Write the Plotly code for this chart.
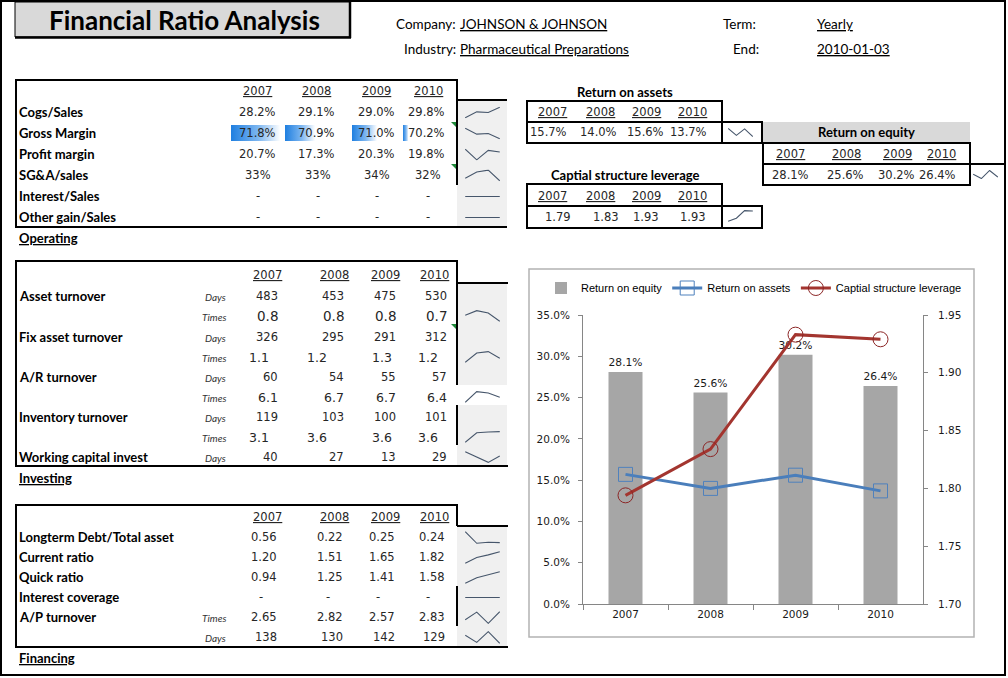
import plotly.graph_objects as go

W, H = 1008, 678
NUM = "DejaVu Sans"
LBL = "Lato"
SPARK = "#46566b"
COLGRAY = "#f0f0f0"

years = ["2007", "2008", "2009", "2010"]

# operating (% of sales)
cogs_sales = [28.2, 29.1, 29.0, 29.8]
gross_margin = [71.8, 70.9, 71.0, 70.2]
profit_margin = [20.7, 17.3, 20.3, 19.8]
sga_sales = [32.7, 33.4, 33.6, 32.4]
interest_sales = [None, None, None, None]
other_gain_sales = [None, None, None, None]

# investing
asset_days = [483, 453, 475, 530]
asset_times = [0.756, 0.806, 0.78, 0.689]
fix_days = [326, 295, 291, 312]
fix_times = [1.12, 1.237, 1.254, 1.17]
ar_days = [60, 54, 55, 57]
ar_times = [6.08, 6.74, 6.66, 6.40]
inv_days = [119, 103, 100, 101]
inv_times = [3.07, 3.58, 3.62, 3.64]
wc_days = [40, 27, 13, 29]

# financing
ltd_assets = [0.56, 0.22, 0.25, 0.24]
current_ratio = [1.20, 1.51, 1.65, 1.82]
quick_ratio = [0.94, 1.25, 1.41, 1.58]
interest_coverage = [None, None, None, None]
ap_times = [2.65, 2.82, 2.57, 2.83]
ap_days = [138, 130, 142, 129]

# returns
roa = [15.7, 14.0, 15.6, 13.7]
roe = [28.1, 25.6, 30.2, 26.4]
leverage = [1.794, 1.834, 1.933, 1.929]


def X(x):
    return x / W


def Y(y):
    return 1 - y / H


fig = go.Figure()
shapes, annos = [], []


def line(x0, y0, x1, y1, w=2, color="black"):
    shapes.append(dict(type="line", xref="paper", yref="paper", x0=X(x0), y0=Y(y0), x1=X(x1), y1=Y(y1),
                       line=dict(color=color, width=w), layer="above"))


def box(x0, y0, x1, y1, fill, w=0, color="black", layer="below"):
    shapes.append(dict(type="rect", xref="paper", yref="paper", x0=X(x0), y0=Y(y0), x1=X(x1), y1=Y(y1),
                       fillcolor=fill, line=dict(color=color, width=w), layer=layer))


def txt(x, y, s, size=11.5, family=NUM, anchor="center", weight="normal", style="normal", color="#262626"):
    annos.append(dict(x=X(x), y=Y(y), xref="paper", yref="paper", text=s, showarrow=False,
                      xanchor=anchor, yanchor="middle", borderpad=0, borderwidth=0,
                      font=dict(family=family, size=size, color=color, weight=weight, style=style)))


def label(x, y, s, size=13):
    txt(x, y, s, size=size, family=LBL, anchor="left", weight="bold", color="black")


def tri(x, y):
    shapes.append(dict(type="path", xref="paper", yref="paper", layer="above",
                       path=f"M{X(x)},{Y(y)} L{X(x + 5)},{Y(y)} L{X(x + 5)},{Y(y + 5)} Z",
                       fillcolor="#1f8a3a", line=dict(width=0)))


axis_no = [3]


def new_axes(x0, x1, y0, y1, xr, yr, xtype="linear"):
    axis_no[0] += 1
    k = axis_no[0]
    fig.update_layout({
        f"xaxis{k}": dict(domain=[X(x0), X(x1)], range=xr, type=xtype, visible=False, fixedrange=True, anchor=f"y{k}"),
        f"yaxis{k}": dict(domain=[Y(y1), Y(y0)], range=yr, visible=False, fixedrange=True, anchor=f"x{k}"),
    })
    return f"x{k}", f"y{k}"


def spark(values, x0, x1, yc, half=6):
    pts = [0 if v is None else v for v in values]
    lo, hi = min(pts), max(pts)
    if hi == lo:
        lo, hi = lo - 1, hi + 1
    pad = (hi - lo) * 0.06
    xa, ya = new_axes(x0, x1, yc - half, yc + half, [-0.02, 3.02], [lo - pad, hi + pad], "category")
    fig.add_trace(go.Scatter(x=years, y=pts, mode="lines", line=dict(color=SPARK, width=1.1),
                             xaxis=xa, yaxis=ya, showlegend=False, hoverinfo="skip"))


def fmt(v, f):
    return "-" if v is None else f.format(v)


# ---------------- header ----------------
box(1, 1, 1005, 675, "rgba(0,0,0,0)", w=2, layer="above")
box(15, 2, 350, 37, "#d9d9d9", w=1)
line(15, 37.5, 351, 37.5, w=2.5)
line(350, 2, 350, 38, w=2.5)
txt(184, 20, "Financial Ratio Analysis", size=26, family=LBL, weight="bold", color="black")

HF = 13.5
txt(456, 24, "Company:", size=HF, family=LBL, anchor="right", color="black")
txt(460, 24, "<u>JOHNSON &amp; JOHNSON</u>", size=HF, family=LBL, anchor="left", color="black")
txt(456, 49, "Industry:", size=HF, family=LBL, anchor="right", color="black")
txt(460, 49, "<u>Pharmaceutical Preparations</u>", size=HF, family=LBL, anchor="left", color="black")
txt(723, 24, "Term:", size=HF, family=LBL, anchor="left", color="black")
txt(817, 24, "<u>Yearly</u>", size=HF, family=LBL, anchor="left", color="black")
txt(733, 49, "End:", size=HF, family=LBL, anchor="left", color="black")
txt(817, 49, "<u>2010-01-03</u>", size=HF, family=LBL, anchor="left", color="black")

SPX0, SPX1 = 465, 500

# ---------------- operating ----------------
box(457, 100, 507, 227, COLGRAY)
line(16, 80, 457, 80)
line(16, 79, 16, 228)
line(457, 79, 457, 185)
line(457, 100, 507, 100)
line(15, 227, 507, 227)
tri(451, 122)
tri(451, 164)

for x, yr in zip([257, 316, 376, 428], years):
    txt(x, 91, f"<u>{yr}</u>")

R_OP = [276, 335, 395, 445]
C_OP = [258, 318, 377, 428]
op_rows = [
    ("Cogs/Sales", cogs_sales, "{:.1f}%", "right", 112),
    ("Gross Margin", gross_margin, "{:.1f}%", "right", 133),
    ("Profit margin", profit_margin, "{:.1f}%", "right", 154),
    ("SG&amp;A/sales", sga_sales, "{:.0f}%", "center", 175),
    ("Interest/Sales", interest_sales, "{:.1f}%", "center", 196),
    ("Other gain/Sales", other_gain_sales, "{:.1f}%", "center", 217),
]

# Excel style data bars on gross margin
lo, hi = min(gross_margin), max(gross_margin)
span = (hi - lo) / 0.8
base = lo - 0.1 * span
bar_cells = [(231, 286), (285, 352), (352, 402), (403, 458)]
for (c0, c1), v in zip(bar_cells, gross_margin):
    xa, ya = new_axes(c0, c1, 125, 141, [base, base + span], [0, 1])
    fig.add_trace(go.Scatter(x=[base, v, v, base, base], y=[0, 0, 1, 1, 0], mode="lines", fill="toself",
                             line=dict(width=0),
                             fillgradient=dict(type="horizontal",
                                               colorscale=[[0, "#1f7fe0"], [0.55, "#7db6f0"], [1, "#ffffff"]]),
                             xaxis=xa, yaxis=ya, showlegend=False, hoverinfo="skip"))

for name, vals, f, align, y in op_rows:
    label(19, y, name)
    xs = R_OP if align == "right" else C_OP
    for x, v in zip(xs, vals):
        txt(x, y, fmt(v, f), anchor=align)
    spark(vals, SPX0, SPX1, y + 0.5)
label(19, 238, "<u>Operating</u>")

# ---------------- investing ----------------
box(457, 283, 507, 385, COLGRAY)
box(457, 405, 507, 466, COLGRAY)
line(16, 261, 457, 261)
line(16, 260, 16, 467)
line(457, 260, 457, 385)
line(457, 405, 457, 445)
line(457, 283, 508, 283)
line(15, 466, 508, 466)
tri(451, 324)

YR_IN = [267, 334, 385, 434]
for x, yr in zip(YR_IN, years):
    txt(x, 275, f"<u>{yr}</u>")

R_IN = [278, 344, 396, 447]
L_IN = [249, 307, 372, 418]
inv_rows = [
    ("Asset turnover", "Days", asset_days, "{:.0f}", "right", R_IN, 11.5, 296, False),
    ("", "Times", asset_times, "{:.1f}", "right", R_IN, 13.5, 316, True),
    ("Fix asset turnover", "Days", fix_days, "{:.0f}", "right", R_IN, 11.5, 337, False),
    ("", "Times", fix_times, "{:.1f}", "left", L_IN, 12.5, 357, True),
    ("A/R turnover", "Days", ar_days, "{:.0f}", "right", R_IN, 11.5, 377, False),
    ("", "Times", ar_times, "{:.1f}", "right", R_IN, 12.5, 397, True),
    ("Inventory turnover", "Days", inv_days, "{:.0f}", "right", R_IN, 11.5, 417, False),
    ("", "Times", inv_times, "{:.1f}", "left", L_IN, 12.5, 437, True),
    ("Working capital invest", "Days", wc_days, "{:.0f}", "right", R_IN, 11.5, 457, True),
]
for name, sub, vals, f, align, xs, size, y, sp in inv_rows:
    if name:
        label(19, y, name)
    txt(226, y + 1, sub, size=10, family=LBL, anchor="right", style="italic", color="#333333")
    for x, v in zip(xs, vals):
        txt(x, y, fmt(v, f), size=size, anchor=align)
    if sp:
        spark(vals, SPX0, SPX1, y)
label(19, 478, "<u>Investing</u>")

# ---------------- financing ----------------
box(457, 526, 507, 647, COLGRAY)
line(16, 505, 457, 505)
line(16, 504, 16, 648)
line(457, 504, 457, 526)
line(457, 586, 457, 626)
line(457, 526, 508, 526)
line(15, 647, 508, 647)

for x, yr in zip(YR_IN, years):
    txt(x, 517, f"<u>{yr}</u>")

R_FI = [277, 343, 395, 445]
C_FI = [261, 328, 378, 428]
fin_rows = [
    ("Longterm Debt/Total asset", "", ltd_assets, "{:.2f}", "right", R_FI, 537),
    ("Current ratio", "", current_ratio, "{:.2f}", "right", R_FI, 557),
    ("Quick ratio", "", quick_ratio, "{:.2f}", "right", R_FI, 577),
    ("Interest coverage", "", interest_coverage, "{:.2f}", "center", C_FI, 597),
    ("A/P turnover", "Times", ap_times, "{:.2f}", "right", R_FI, 617),
    ("", "Days", ap_days, "{:.0f}", "right", R_FI, 637),
]
for name, sub, vals, f, align, xs, y in fin_rows:
    if name:
        label(19, y, name)
    if sub:
        txt(226, y + 1, sub, size=10, family=LBL, anchor="right", style="italic", color="#333333")
    for x, v in zip(xs, vals):
        txt(x, y, fmt(v, f), anchor=align)
    spark(vals, SPX0, SPX1, y + 0.5, half=6.5)
label(19, 658, "<u>Financing</u>")

# ---------------- return tables ----------------
YR_R = [552, 600, 646, 692]
txt(625, 92, "Return on assets", size=13, family=LBL, weight="bold", color="black")
box(527, 101, 722, 143, "rgba(0,0,0,0)", w=2, layer="above")
line(527, 122, 763, 122)
line(527, 143, 763, 143)
line(762, 122, 762, 144)
for x, yr in zip(YR_R, years):
    txt(x, 112, f"<u>{yr}</u>")
for x, v in zip([548, 598, 645, 688], roa):
    txt(x, 132, f"{v:.1f}%")
spark(roa, 728, 753, 132.5, half=4.5)

box(763, 122, 970, 143, "#d9d9d9")
txt(866, 132, "Return on equity", size=13, family=LBL, weight="bold", color="black")
box(763, 143, 970, 185, "rgba(0,0,0,0)", w=2, layer="above")
line(763, 164, 1005, 164)
for x, yr in zip([790, 846, 897, 941], years):
    txt(x, 154, f"<u>{yr}</u>")
for x, v in zip([790, 845, 896, 937], roe):
    txt(x, 175, f"{v:.1f}%")
spark(roe, 973, 998, 174.5, half=4.5)

txt(625, 175, "Captial structure leverage", size=13, family=LBL, weight="bold", color="black")
box(527, 184, 722, 228, "rgba(0,0,0,0)", w=2, layer="above")
line(527, 206, 763, 206)
line(527, 228, 763, 228)
line(762, 206, 762, 229)
for x, yr in zip(YR_R, years):
    txt(x, 196, f"<u>{yr}</u>")
for x, v in zip([558, 606, 646, 693], leverage):
    txt(x, 217, f"{v:.2f}")
spark(leverage, 728, 753, 216, half=6)

# ---------------- chart ----------------
box(529, 269, 974, 637, "rgba(0,0,0,0)", w=1.5, color="#b3b3b3", layer="above")

fig.add_trace(go.Bar(
    x=years, y=[v / 100 for v in roe], name="Return on equity",
    marker=dict(color="#a6a6a6", line=dict(width=0)), width=0.4,
    texttemplate="%{y:.1%}", textposition="outside", cliponaxis=False,
    textfont=dict(family=NUM, size=11, color="#1a1a1a"),
    xaxis="x2", yaxis="y2", hoverinfo="skip",
))
fig.add_trace(go.Scatter(
    x=years, y=[v / 100 for v in roa], name="Return on assets", mode="lines+markers",
    line=dict(color="#4a7ebb", width=3),
    marker=dict(symbol="square-open", size=14, color="#4f81bd", line=dict(width=1)),
    xaxis="x2", yaxis="y2", hoverinfo="skip",
))
fig.add_trace(go.Scatter(
    x=years, y=leverage, name="Captial structure leverage", mode="lines+markers",
    line=dict(color="#a3352f", width=3),
    marker=dict(symbol="circle-open", size=15, color="#8c2626", line=dict(width=1)),
    xaxis="x2", yaxis="y3", hoverinfo="skip",
))

AX = "#868686"
fig.update_layout(
    width=W, height=H,
    margin=dict(l=0, r=0, t=0, b=0, autoexpand=False),
    paper_bgcolor="white",
    plot_bgcolor="rgba(0,0,0,0)",
    shapes=shapes,
    annotations=annos,
    showlegend=True,
    legend=dict(orientation="h", x=X(754), xanchor="center", y=Y(288), yanchor="middle",
                font=dict(family="Liberation Sans", size=11, color="black"),
                bgcolor="rgba(0,0,0,0)", traceorder="normal", itemwidth=30),
    xaxis2=dict(domain=[X(583), X(923)], anchor="y2", type="category", showline=True, linecolor=AX,
                ticks="outside", tickson="boundaries", ticklen=5, tickcolor=AX, showgrid=False,
                tickfont=dict(family=NUM, size=10.5, color="#1a1a1a"), fixedrange=True),
    yaxis2=dict(domain=[Y(604), Y(315)], anchor="x2", range=[0, 0.35], dtick=0.05, tickformat=".1%",
                showline=True, linecolor=AX, ticks="outside", ticklen=4, tickcolor=AX,
                showgrid=False, zeroline=False, ticklabelstandoff=6,
                tickfont=dict(family=NUM, size=10.5, color="#1a1a1a"), fixedrange=True),
    yaxis3=dict(overlaying="y2", side="right", anchor="x2", range=[1.70, 1.95], dtick=0.05, tickformat=".2f",
                showline=True, linecolor=AX, ticks="outside", ticklen=4, tickcolor=AX,
                showgrid=False, zeroline=False, ticklabelstandoff=8,
                tickfont=dict(family=NUM, size=10.5, color="#1a1a1a"), fixedrange=True),
)

fig.write_html("out.html", config={"displayModeBar": False},
               post_script="document.body.style.margin='0px';")
